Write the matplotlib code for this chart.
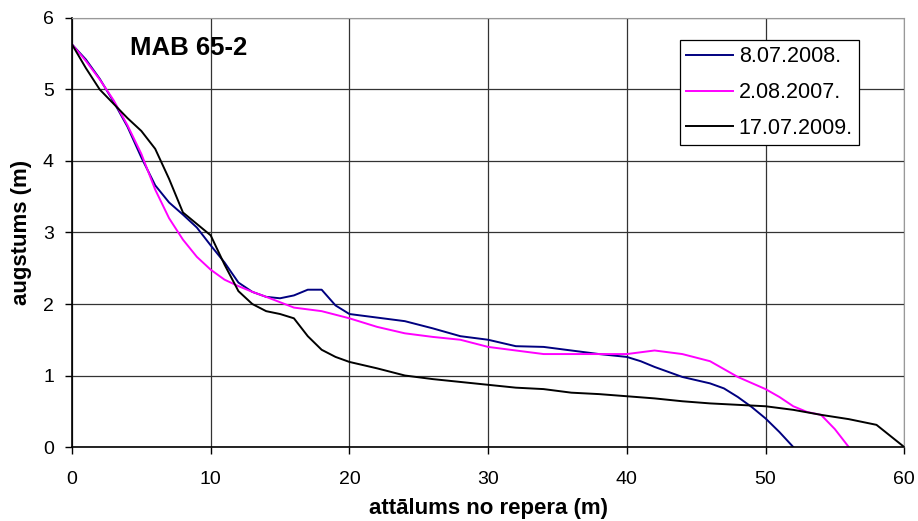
import matplotlib.pyplot as plt

# 8.07.2008.
x_2008 = [0, 1, 2, 3, 4, 5, 6, 7, 8, 9, 10, 11, 12, 13, 14, 15, 16, 17, 18, 19, 20,
          22, 24, 26, 28, 30, 32, 34, 36, 38, 40, 41, 42, 44, 46, 47, 48, 49, 50, 51, 52]
y_2008 = [5.63, 5.42, 5.15, 4.83, 4.48, 4.05, 3.66, 3.42, 3.25, 3.07, 2.82, 2.58, 2.3,
          2.17, 2.1, 2.08, 2.12, 2.2, 2.2, 1.98, 1.86, 1.81, 1.76, 1.66, 1.55, 1.5,
          1.41, 1.40, 1.35, 1.30, 1.26, 1.20, 1.12, 0.98, 0.89, 0.82, 0.70, 0.56,
          0.40, 0.21, 0.0]

# 2.08.2007.
x_2007 = [0, 1, 2, 3, 4, 5, 6, 7, 8, 9, 10, 11, 12, 13, 14, 16, 18, 20, 22, 24, 26,
          28, 30, 32, 34, 36, 38, 40, 42, 44, 46, 48, 50, 51, 52, 53, 54, 55, 56]
y_2007 = [5.63, 5.4, 5.14, 4.85, 4.5, 4.1, 3.6, 3.2, 2.9, 2.66, 2.48, 2.34, 2.25, 2.17,
          2.1, 1.95, 1.9, 1.8, 1.68, 1.59, 1.54, 1.50, 1.40, 1.35, 1.30, 1.30, 1.30,
          1.30, 1.35, 1.30, 1.20, 0.98, 0.81, 0.70, 0.57, 0.49, 0.45, 0.25, 0.0]

# 17.07.2009.
x_2009 = [0, 1, 2, 3, 4, 5, 6, 7, 8, 9, 10, 11, 12, 13, 14, 15, 16, 17, 18, 19, 20,
          22, 24, 26, 28, 30, 32, 34, 36, 38, 40, 42, 44, 46, 48, 50, 52, 54, 56, 58, 60]
y_2009 = [5.63, 5.3, 5.0, 4.8, 4.6, 4.42, 4.17, 3.75, 3.28, 3.12, 2.96, 2.55, 2.18,
          2.0, 1.9, 1.86, 1.8, 1.55, 1.36, 1.26, 1.19, 1.1, 1.0, 0.95, 0.91, 0.87,
          0.83, 0.81, 0.76, 0.74, 0.71, 0.68, 0.64, 0.61, 0.59, 0.57, 0.52, 0.45,
          0.39, 0.31, 0.0]

plt.rcParams['font.family'] = ['Liberation Sans', 'DejaVu Sans']

fig = plt.figure(figsize=(9.18, 5.21), dpi=100)
ax = fig.add_axes([0.0784, 0.142, 0.9066, 0.8235])

ax.plot(x_2008, y_2008, color='#000080', lw=1.4, label='8.07.2008.')
ax.plot(x_2007, y_2007, color='#ff00ff', lw=1.4, label='2.08.2007.')
ax.plot(x_2009, y_2009, color='#000000', lw=1.4, label='17.07.2009.')

ax.set_xlim(0, 60)
ax.set_ylim(0, 6)
ax.set_xticks(range(0, 61, 10))
ax.set_yticks(range(0, 7))
ax.grid(True, color='#333333', lw=0.9)
ax.set_axisbelow(True)
ax.tick_params(labelsize=14, length=5, width=1, color='black', direction='out')
ax.tick_params(axis='x', pad=12)
ax.tick_params(axis='y', pad=8)
for side in ['top', 'right']:
    ax.spines[side].set_color('#999999')
ax.spines['left'].set_linewidth(1.2)
ax.spines['bottom'].set_linewidth(1.2)

ax.set_xlabel('attālums no repera (m)', fontsize=16, fontweight='bold')
ax.set_ylabel('augstums (m)', fontsize=16, fontweight='bold')
ax.xaxis.set_label_coords(0.5, -0.118)
ax.yaxis.set_label_coords(-0.048, 0.5)

ax.text(0.07, 0.93, 'MAB 65-2', transform=ax.transAxes, fontsize=18.5,
        fontweight='bold', va='center', ha='left')

leg = ax.legend(loc='upper left', bbox_to_anchor=(0.730, 0.949), fontsize=15.5,
                frameon=True, fancybox=False, edgecolor='black', framealpha=1,
                handlelength=2.2, handletextpad=0.25, labelspacing=0.69,
                borderpad=0.3, borderaxespad=0)
leg.get_frame().set_linewidth(0.9)

fig.savefig('out.png', dpi=100)
